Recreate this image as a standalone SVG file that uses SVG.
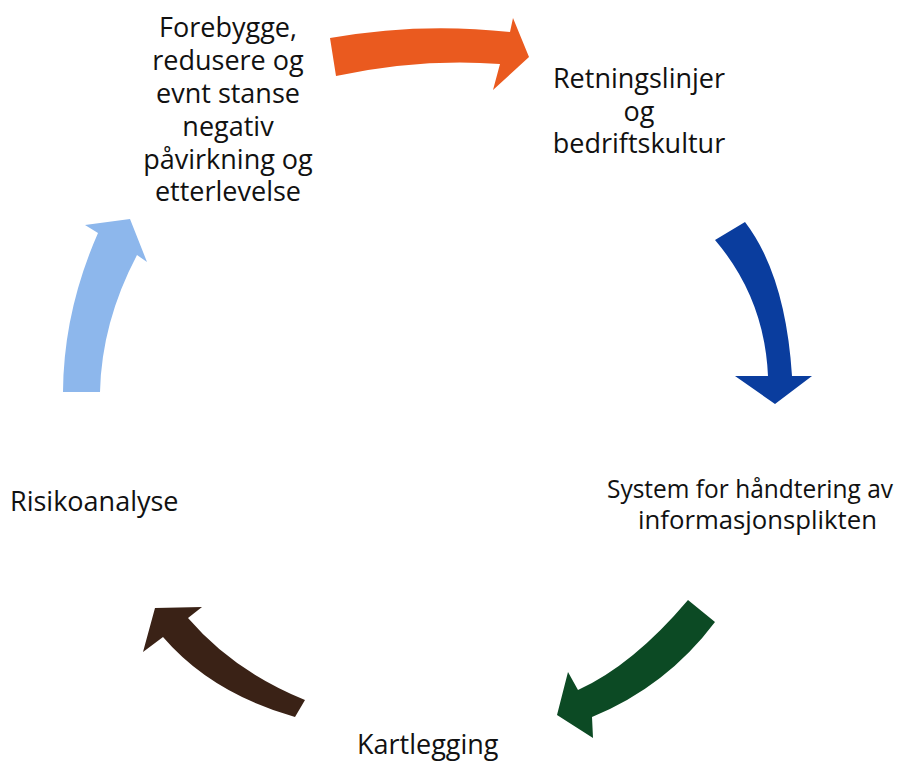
<svg xmlns="http://www.w3.org/2000/svg" width="923" height="764" viewBox="0 0 923 764">
<style>
text{font-family:"Open Sans","Liberation Sans",sans-serif;font-size:27px;fill:#111;}
.c{text-anchor:middle;}
.s{font-size:26px;}
</style>
<rect width="923" height="764" fill="#fff"/>
<g id="connectors">
<path id="a-orange" d="M330,38 Q420,22 510,32 L513,18 L529,57 L493,90 L500,64 Q420,58 336,76 Z" fill="#EA5A1F"/>
<path id="a-blue" d="M715,240 Q764.5,298 768,376 L735,376 L775,404 L812,376 L792,376 Q785.5,275 745,222 Z" fill="#0A3D9E"/>
<path id="a-green" d="M688,600 Q633,665 578,690 L568,672 L557,715 L593,738 L592,717 Q666.5,686.5 715,622 Z" fill="#0C4A24"/>
<path id="a-brown" d="M305,700 Q233.5,671 188,618 L202,607 L155,608 L143,652 L163,637 Q211,693 295,717 Z" fill="#3A2216"/>
<path id="a-lightblue" d="M63,392 Q63.5,311.5 98,233 L85,225 L130,219 L147,262 L137,255 Q101.5,322.5 100,392 Z" fill="#8DB7EC"/>
</g>
<g id="n-forebygge">
<text class="c" x="228" y="37">Forebygge,</text>
<text class="c" x="228" y="70">redusere og</text>
<text class="c" x="228" y="103">evnt stanse</text>
<text class="c" x="228" y="136">negativ</text>
<text class="c" x="228" y="169">påvirkning og</text>
<text class="c" x="228" y="201">etterlevelse</text>
</g>
<g id="n-retningslinjer">
<text class="c" x="639" y="88">Retningslinjer</text>
<text class="c" x="639" y="121">og</text>
<text class="c" x="639" y="153">bedriftskultur</text>
</g>
<g id="n-system">
<text class="s" x="607" y="498" textLength="286" lengthAdjust="spacingAndGlyphs">System for håndtering av</text>
<text class="s" x="638" y="529" textLength="239" lengthAdjust="spacingAndGlyphs">informasjonsplikten</text>
</g>
<g id="n-risiko">
<text x="10" y="511">Risikoanalyse</text>
</g>
<g id="n-kartlegging">
<text x="357" y="754">Kartlegging</text>
</g>
</svg>
